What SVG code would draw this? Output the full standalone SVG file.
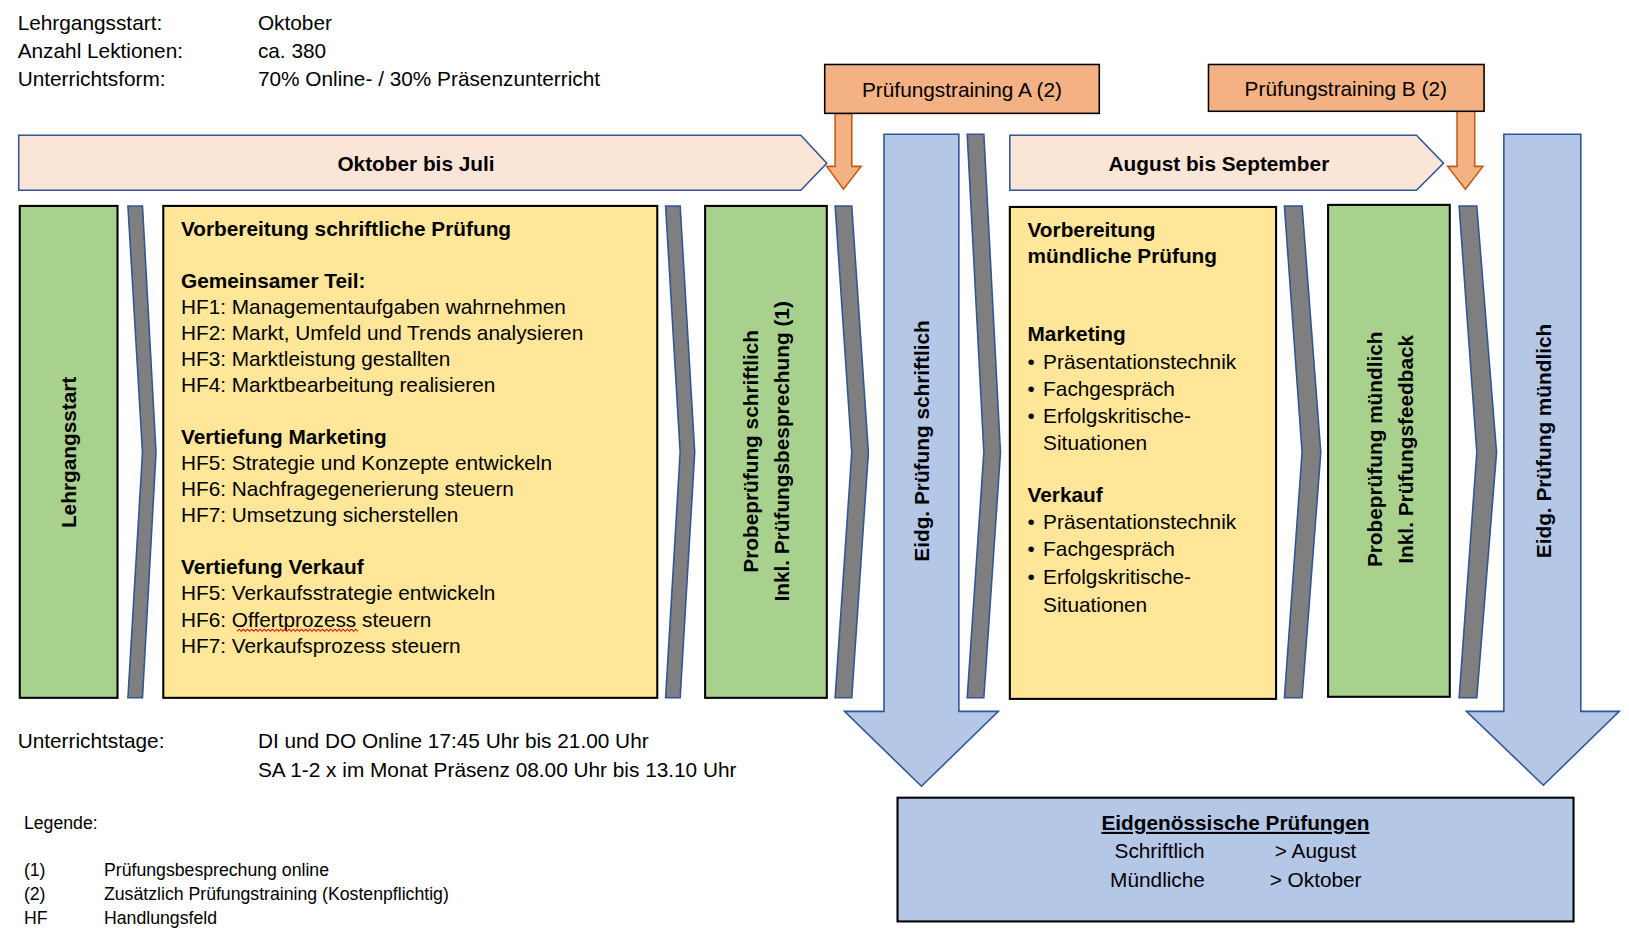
<svg xmlns="http://www.w3.org/2000/svg" width="1629" height="941" viewBox="0 0 1629 941">
<style>
text{font-family:"Liberation Sans",Arial,sans-serif;font-size:20px;fill:#000}
.b{font-weight:bold}
.s{font-size:17px}
.chev{fill:#7f7f7f;stroke:#2f5597;stroke-width:1.5}
.green{fill:#a9d18e;stroke:#000;stroke-width:2}
.yel{fill:#ffe699;stroke:#000;stroke-width:2}
.blue{fill:#b4c7e7;stroke:#2f5597;stroke-width:1.5}
.ban{fill:#fbe5d6;stroke:#2f5597;stroke-width:1.5}
.org{fill:#f4b183;stroke:#000;stroke-width:1.5}
.orga{fill:#f4b183;stroke:#c55a11;stroke-width:1.5}
</style>
<rect width="1629" height="941" fill="#fff"/>
<g transform="scale(1.04)">
<g id="header">
<text x="17" y="29">Lehrgangsstart:</text><text x="248" y="29">Oktober</text>
<text x="17" y="56">Anzahl Lektionen:</text><text x="248" y="56">ca. 380</text>
<text x="17" y="83">Unterrichtsform:</text><text x="248" y="83">70% Online- / 30% Präsenzunterricht</text>
</g>
<g id="connectors">
<polygon class="chev" points="123,198 137,198 150,435 137,671 123,671 137,435"/>
<polygon class="chev" points="640,198 654,198 668,435 654,671 640,671 654,435"/>
<polygon class="chev" points="803,198 819,198 835,435 819,671 803,671 819,435"/>
<polygon class="chev" points="930,129 946,129 962,435 946,671 930,671 946,435"/>
<polygon class="chev" points="1235,198 1252,198 1270,435 1252,671 1235,671 1252,435"/>
<polygon class="chev" points="1403,198 1420,198 1439,435 1420,671 1403,671 1420,435"/>
<polygon class="orga" points="803,109 819,109 819,160 828,160 811,182 795,160 803,160"/>
<polygon class="orga" points="1401,107 1418,107 1418,160 1426,160 1409,182 1392,160 1401,160"/>
</g>
<g id="banner1"><polygon class="ban" points="18,130 770,130 795,157 770,183 18,183"/><text class="b" x="400" y="164" text-anchor="middle">Oktober bis Juli</text></g>
<g id="banner2"><polygon class="ban" points="971,130 1362,130 1388,157 1362,183 971,183"/><text class="b" x="1172" y="164" text-anchor="middle">August bis September</text></g>
<g id="trainingA"><rect class="org" x="793" y="62" width="264" height="47"/><text x="925" y="93" text-anchor="middle">Prüfungstraining A (2)</text></g>
<g id="trainingB"><rect class="org" x="1162" y="62" width="265" height="45"/><text x="1294" y="92" text-anchor="middle">Prüfungstraining B (2)</text></g>
<g id="lehrgangsstart"><rect class="green" x="19" y="198" width="94" height="473"/><text class="b" transform="translate(73,435) rotate(-90)" text-anchor="middle">Lehrgangsstart</text></g>
<g id="schriftlich">
<rect class="yel" x="157" y="198" width="475" height="473"/>
<text class="b" x="174" y="227">Vorbereitung schriftliche Prüfung</text>
<text class="b" x="174" y="277">Gemeinsamer Teil:</text>
<text x="174" y="302">HF1: Managementaufgaben wahrnehmen</text>
<text x="174" y="327">HF2: Markt, Umfeld und Trends analysieren</text>
<text x="174" y="352">HF3: Marktleistung gestallten</text>
<text x="174" y="377">HF4: Marktbearbeitung realisieren</text>
<text class="b" x="174" y="427">Vertiefung Marketing</text>
<text x="174" y="452">HF5: Strategie und Konzepte entwickeln</text>
<text x="174" y="477">HF6: Nachfragegenerierung steuern</text>
<text x="174" y="502">HF7: Umsetzung sicherstellen</text>
<text class="b" x="174" y="552">Vertiefung Verkauf</text>
<text x="174" y="577">HF5: Verkaufsstrategie entwickeln</text>
<text x="174" y="603">HF6: Offertprozess steuern</text>
<path d="M228,607 l2,-2 l2,2 l2,-2 l2,2 l2,-2 l2,2 l2,-2 l2,2 l2,-2 l2,2 l2,-2 l2,2 l2,-2 l2,2 l2,-2 l2,2 l2,-2 l2,2 l2,-2 l2,2 l2,-2 l2,2 l2,-2 l2,2 l2,-2 l2,2 l2,-2 l2,2 l2,-2 l2,2 l2,-2 l2,2 l2,-2 l2,2 l2,-2 l2,2 l2,-2 l2,2 l2,-2 l2,2 l2,-2 l2,2 l2,-2 l2,2 l2,-2 l2,2 l2,-2 l2,2 l2,-2 l2,2 l2,-2 l2,2 l2,-2 l2,2 l2,-2 l2,2 l2,-2 l2,2" fill="none" stroke="#e00" stroke-width="1"/>
<text x="174" y="628">HF7: Verkaufsprozess steuern</text>
</g>
<g id="probe1"><rect class="green" x="678" y="198" width="117" height="473"/>
<text class="b" transform="translate(729,434) rotate(-90)" text-anchor="middle">Probeprüfung schriftlich</text>
<text class="b" transform="translate(759,434) rotate(-90)" text-anchor="middle">Inkl. Prüfungsbesprechung (1)</text></g>
<g id="eidg1"><polygon class="blue" points="850,129 922,129 922,684 960,684 886,756 812,684 850,684"/>
<text class="b" transform="translate(893,424) rotate(-90)" text-anchor="middle">Eidg. Prüfung schriftlich</text></g>
<g id="muendlich">
<rect class="yel" x="971" y="199" width="256" height="473"/>
<text class="b" x="988" y="228">Vorbereitung</text>
<text class="b" x="988" y="253">mündliche Prüfung</text>
<text class="b" x="988" y="328">Marketing</text>
<text x="988" y="355">•</text><text x="1003" y="355">Präsentationstechnik</text>
<text x="988" y="381">•</text><text x="1003" y="381">Fachgespräch</text>
<text x="988" y="407">•</text><text x="1003" y="407">Erfolgskritische-</text>
<text x="1003" y="433">Situationen</text>
<text class="b" x="988" y="483">Verkauf</text>
<text x="988" y="509">•</text><text x="1003" y="509">Präsentationstechnik</text>
<text x="988" y="535">•</text><text x="1003" y="535">Fachgespräch</text>
<text x="988" y="562">•</text><text x="1003" y="562">Erfolgskritische-</text>
<text x="1003" y="588">Situationen</text>
</g>
<g id="probe2"><rect class="green" x="1277" y="197" width="117" height="473"/>
<text class="b" transform="translate(1329,432) rotate(-90)" text-anchor="middle">Probeprüfung mündlich</text>
<text class="b" transform="translate(1359,432) rotate(-90)" text-anchor="middle">Inkl. Prüfungsfeedback</text></g>
<g id="eidg2"><polygon class="blue" points="1446,129 1520,129 1520,684 1557,684 1484,755 1410,684 1446,684"/>
<text class="b" transform="translate(1491,424) rotate(-90)" text-anchor="middle">Eidg. Prüfung mündlich</text></g>
<g id="unterricht">
<text x="17" y="719">Unterrichtstage:</text>
<text x="248" y="719">DI und DO Online 17:45 Uhr bis 21.00 Uhr</text>
<text x="248" y="747">SA 1-2 x im Monat Präsenz 08.00 Uhr bis 13.10 Uhr</text>
</g>
<g id="legende">
<text class="s" x="23" y="797">Legende:</text>
<text class="s" x="23" y="842">(1)</text><text class="s" x="100" y="842">Prüfungsbesprechung online</text>
<text class="s" x="23" y="865">(2)</text><text class="s" x="100" y="865">Zusätzlich Prüfungstraining (Kostenpflichtig)</text>
<text class="s" x="23" y="888">HF</text><text class="s" x="100" y="888">Handlungsfeld</text>
</g>
<g id="pruefungen"><rect x="863" y="767" width="650" height="119" fill="#b4c7e7" stroke="#000" stroke-width="2"/>
<text class="b" x="1188" y="798" text-anchor="middle" text-decoration="underline">Eidgenössische Prüfungen</text>
<text x="1115" y="825" text-anchor="middle">Schriftlich</text><text x="1265" y="825" text-anchor="middle">&gt; August</text>
<text x="1113" y="853" text-anchor="middle">Mündliche</text><text x="1265" y="853" text-anchor="middle">&gt; Oktober</text>
</g>
</g>
</svg>
